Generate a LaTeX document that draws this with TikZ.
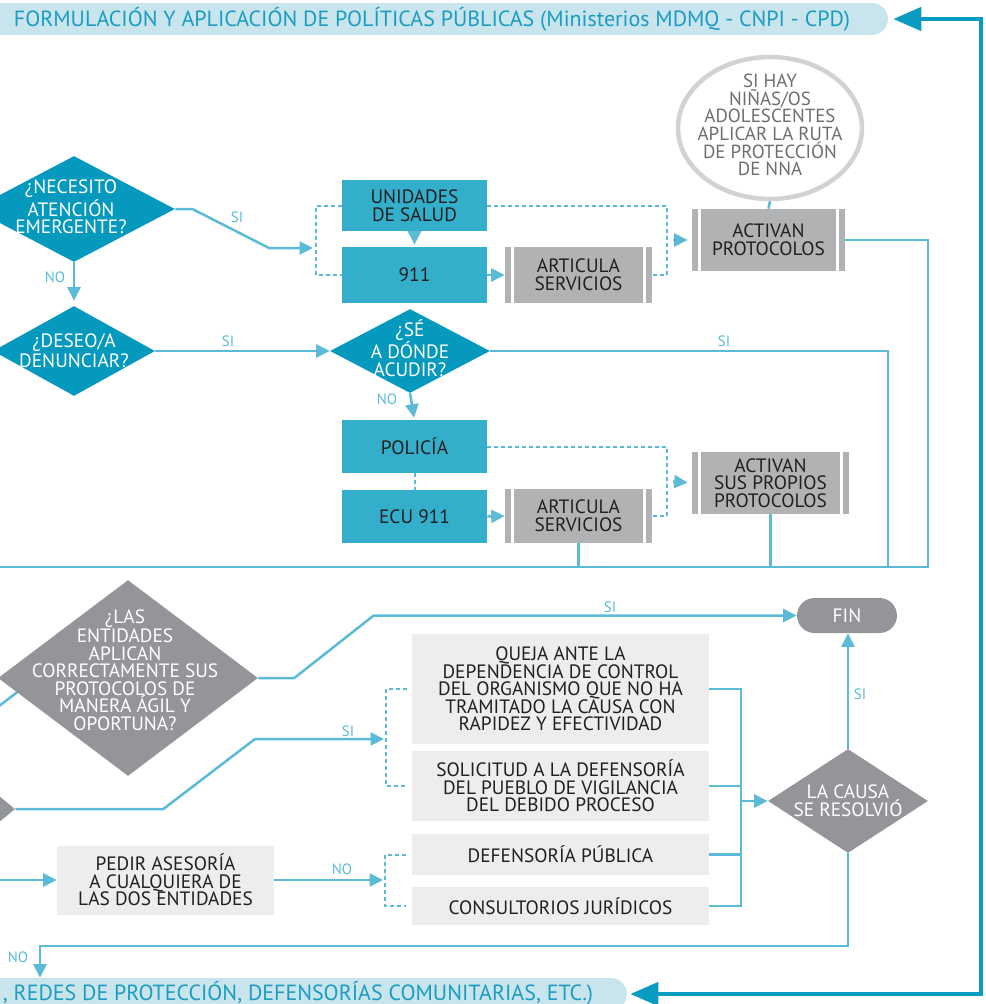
\documentclass[tikz,border=0pt]{standalone}
\usepackage{fontspec}
\setmainfont{PT Sans}
\usetikzlibrary{calc,arrows.meta,shapes.geometric}

\definecolor{deepteal}{HTML}{0599BD}
\definecolor{boxteal}{HTML}{33AFCB}
\definecolor{linkblue}{HTML}{5BBAD6}
\definecolor{railteal}{HTML}{0A9BC0}
\definecolor{stone}{HTML}{939598}
\definecolor{ash}{HTML}{B1B2B4}
\definecolor{paper}{HTML}{EDEDEE}
\definecolor{ring}{HTML}{D1D2D4}
\definecolor{slate}{HTML}{6D6E71}
\definecolor{ink}{HTML}{231F20}
\definecolor{mist}{HTML}{C8E4ED}
\definecolor{bannerink}{HTML}{1C9CC1}

\begin{document}
\begin{tikzpicture}[x=0.02cm, y=-0.02cm,
    link/.style={draw=linkblue, line width=0.05cm},
    arr/.style={link, -{Triangle[length=0.27cm, width=0.26cm]}},
    dlink/.style={draw=linkblue, line width=0.04cm, dash pattern=on 0.08cm off 0.06cm},
    rail/.style={draw=railteal, line width=0.09cm},
    lbl/.style={text=linkblue, inner sep=0, font=\fontsize{8.5}{9}\selectfont},
    boxtxt/.style={inner sep=0, align=center, text=ink, font=\fontsize{11}{10}\selectfont},
    tealbox/.style={boxtxt, fill=boxteal},
    service/.style={boxtxt, fill=ash,
      path picture={
        \draw[white, line width=0.06cm]
          ([xshift=0.15cm]path picture bounding box.north west) -- ([xshift=0.15cm]path picture bounding box.south west)
          ([xshift=-0.14cm]path picture bounding box.north east) -- ([xshift=-0.14cm]path picture bounding box.south east);
      }},
    plainbox/.style={boxtxt, fill=paper},
    decision/.style={diamond, inner sep=0, fill=deepteal},
    gdecision/.style={diamond, inner sep=0, fill=stone},
    dtext/.style={inner sep=0, align=center, text=white, font=\fontsize{11}{10}\selectfont},
    banner/.style={fill=mist, rounded corners=0.32cm, inner sep=0},
    bantxt/.style={inner sep=0, text=bannerink, font=\fontsize{12.5}{12}\selectfont},
  ]
  \useasboundingbox (0,0) rectangle (985,1004);
  \clip (0,0) rectangle (985,1004);

  % banners
  \node[banner, minimum width=18.24cm, minimum height=0.64cm] (top) at (432,19) {};
  \node[bantxt] (topt) at (top) {FORMULACIÓN Y APLICACIÓN DE POLÍTICAS PÚBLICAS (Ministerios MDMQ - CNPI - CPD)};
  \node[banner, minimum width=13.2cm, minimum height=0.64cm] (bot) at (297,994) {};
  \node[bantxt] (bott) at (298,993) {, REDES DE PROTECCIÓN, DEFENSORÍAS COMUNITARIAS, ETC.)};

  % upper block
  \node[decision, minimum width=4.04cm, minimum height=2.12cm] (d1) at (74,209) {};
  \node[dtext] (d1t) at (71,207) {¿NECESITO\\ATENCIÓN\\EMERGENTE?};
  \node[decision, minimum width=3.24cm, minimum height=1.8cm] (d2) at (74,351) {};
  \node[dtext] (d2t) at (d2) {¿DESEO/A\\DENUNCIAR?};
  \node[decision, minimum width=3.2cm, minimum height=1.68cm] (d3) at (410,351) {};
  \node[dtext] (d3t) at (410,348) {¿SÉ\\A DÓNDE\\ACUDIR?};

  \node[tealbox, minimum width=2.9cm, minimum height=1.02cm] (salud) at (414.5,205.5) {UNIDADES\\DE SALUD};
  \node[tealbox, minimum width=2.9cm, minimum height=1.12cm] (e911) at (414.5,275) {911};
  \node[service, minimum width=2.94cm, minimum height=1.12cm] (art1) at (578.5,275) {ARTICULA\\SERVICIOS};
  \node[service, minimum width=3.06cm, minimum height=1.24cm] (prot1) at (768.5,240) {ACTIVAN\\PROTOCOLOS};
  \node[ellipse, draw=ring, line width=0.09cm, fill=white, minimum width=3.68cm, minimum height=2.84cm] (nna) at (770,128) {};
  \node[boxtxt, text=slate, font=\fontsize{10.8}{10}\selectfont] (nnat) at (770,125) {SI HAY\\NIÑAS/OS\\ADOLESCENTES\\APLICAR LA RUTA\\DE PROTECCIÓN\\DE NNA};

  \node[tealbox, minimum width=2.9cm, minimum height=1.06cm] (pol) at (414.5,446.5) {POLICÍA};
  \node[tealbox, minimum width=2.9cm, minimum height=1.06cm] (ecu) at (414.5,516.5) {ECU 911};
  \node[service, minimum width=2.94cm, minimum height=1.08cm] (art2) at (578.5,516) {ARTICULA\\SERVICIOS};
  \node[service, minimum width=3.14cm, minimum height=1.24cm] (prot2) at (770.5,483) {ACTIVAN\\SUS PROPIOS\\PROTOCOLOS};

  \coordinate (br1) at (316,248);
  \coordinate (jn1) at (667,240);
  \coordinate (jn2) at (667,481);
  \coordinate (merge) at (928,567);
  \coordinate (sijoin) at (888,567);
  \coordinate (mleft) at (-10,567);

  \draw[arr, shorten >=0.06cm] (d1.east) -- ++(17,0) -- ($(br1)+(-47,0)$) -- (br1);
  \node[lbl] (si1) at (237,217) {SI};
  \draw[arr, shorten >=0.1cm] (d1.south) -- (d2.north);
  \node[lbl] (no1) at (55,277) {NO};
  \draw[dlink] (salud.west) -| (br1) |- (e911.west);
  \draw[arr, shorten <=0.06cm, shorten >=0.04cm] (salud.south) -- (e911.north);
  \draw[arr] (e911.east) -- (art1.west);
  \draw[dlink] (salud.east) -| (jn1) |- (art1.east);
  \draw[arr, shorten <=0.12cm, shorten >=0.08cm] (jn1) -- (prot1.west);
  \draw[link] (nna.south) -- (prot1.north);
  \draw[link] (prot1.east) -| (merge) -- (mleft);

  \draw[arr] (d2.east) -- (d3.west);
  \node[lbl] (si2) at (228,341) {SI};
  \draw[link] (d3.east) -| (sijoin);
  \node[lbl] (si3) at (724,341) {SI};
  \draw[arr, shorten >=0.04cm] (d3.south) -- (pol.north);
  \node[lbl] (no2) at (387,399) {NO};
  \draw[dlink] (pol.south) -- (ecu.north);
  \draw[arr] (ecu.east) -- (art2.west);
  \draw[dlink] (pol.east) -| (jn2) |- (art2.east);
  \draw[arr, shorten <=0.12cm, shorten >=0.08cm] (jn2) -- (prot2.west);
  \draw[link] (art2.south) -- (art2.south |- merge);
  \draw[link] (prot2.south) -- (prot2.south |- merge);

  % lower block
  \coordinate (in4) at (-10,713);
  \coordinate (d4in) at (20,690);
  \draw[link] (in4) -- (d4in);
  \node[gdecision, minimum width=5.2cm, minimum height=3.92cm] (d4) at (128,678) {};
  \node[dtext] (d4t) at (125,670) {¿LAS\\ENTIDADES\\APLICAN\\CORRECTAMENTE SUS\\PROTOCOLOS DE\\MANERA ÁGIL Y\\OPORTUNA?};
  \node[gdecision, minimum width=2.4cm, minimum height=2cm] (d5) at (-45,809) {};
  \node[gdecision, minimum width=3.2cm, minimum height=2.08cm] (d6) at (848,801) {};
  \node[dtext] (d6t) at (d6) {LA CAUSA\\SE RESOLVIÓ};
  \node[fill=stone, rounded corners=0.35cm, minimum width=2cm, minimum height=0.7cm, inner sep=0, text=white, font=\fontsize{11}{10}\selectfont] (fin) at (847,615.5) {FIN};

  \node[plainbox, minimum width=5.94cm, minimum height=2.2cm] (queja) at (560.5,689) {QUEJA ANTE LA\\DEPENDENCIA DE CONTROL\\DEL ORGANISMO QUE NO HA\\TRAMITADO LA CAUSA CON\\RAPIDEZ Y EFECTIVIDAD};
  \node[plainbox, minimum width=5.94cm, minimum height=1.4cm] (solic) at (560.5,786) {SOLICITUD A LA DEFENSORÍA\\DEL PUEBLO DE VIGILANCIA\\DEL DEBIDO PROCESO};
  \node[plainbox, minimum width=5.94cm, minimum height=0.82cm] (defp) at (560.5,854.5) {DEFENSORÍA PÚBLICA};
  \node[plainbox, minimum width=5.94cm, minimum height=0.76cm] (cons) at (560.5,906) {CONSULTORIOS JURÍDICOS};
  \node[plainbox, minimum width=4.34cm, minimum height=1.38cm] (pedir) at (165.5,880) {PEDIR ASESORÍA\\A CUALQUIERA DE\\LAS DOS ENTIDADES};

  \coordinate (br2) at (386,739);
  \coordinate (br3) at (385,880);
  \coordinate (in5) at (-10,880);
  \coordinate (jn3) at (741,801);
  \coordinate (nojn) at (40,946);
  \coordinate (railc) at (981,500);

  \draw[arr] (d4.east) -- ++(36,0) -- ($(fin.west)+(-423,0)$) -- (fin.west);
  \node[lbl] (si4) at (610,607) {SI};
  \draw[arr, shorten >=0.04cm] (d5.east) -- ++(148,0) -- ($(br2)+(-131,0)$) -- (br2);
  \node[lbl] (si5) at (348,731) {SI};
  \draw[dlink, shorten <=0.1cm, shorten >=0.1cm] (queja.west) -| (br2) |- (solic.west);
  \draw[arr] (in5) -- (pedir.west);
  \draw[arr, shorten >=0.04cm] (pedir.east) -- (br3);
  \node[lbl] (no3) at (342,869) {NO};
  \draw[dlink, shorten <=0.12cm, shorten >=0.12cm] (defp.west) -| (br3) |- (cons.west);

  \draw[link] (queja.east) -| (jn3);
  \draw[link] (solic.east) -- (solic.east -| jn3);
  \draw[link] (defp.east) -- (defp.east -| jn3);
  \draw[link] (cons.east) -| (jn3);
  \draw[arr] (jn3) -- (d6.west);
  \draw[arr] (d6.north) -- (d6.north |- fin.south);
  \node[lbl] (si6) at (860,694) {SI};
  \draw[arr] (d6.south) |- (nojn) -- (nojn |- bot.north);
  \node[lbl] (no4) at (18,957) {NO};

  % side rail
  \draw[rail, {Triangle[length=0.56cm, width=0.46cm]}-{Triangle[length=0.56cm, width=0.46cm]}] ([xshift=0.1cm]top.east) -| (railc) |- ([xshift=0.06cm]bot.east);
\end{tikzpicture}
\end{document}
